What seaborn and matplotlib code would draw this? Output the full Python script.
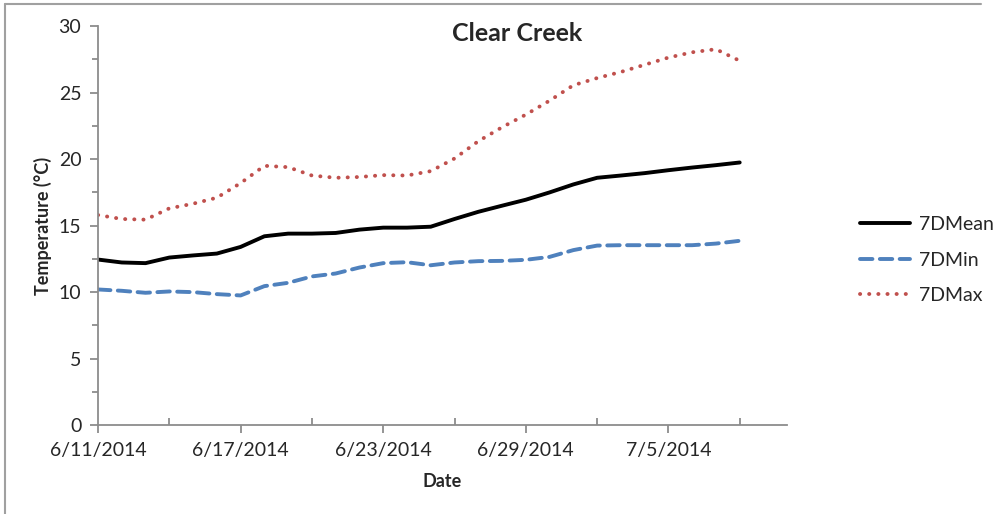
import numpy as np
import pandas as pd
import matplotlib
matplotlib.use("Agg")
import matplotlib.pyplot as plt
import matplotlib.dates as mdates
from matplotlib.ticker import MultipleLocator, FuncFormatter, FixedLocator
import seaborn as sns

sns.set_style("white")
plt.rcParams['font.family'] = ['Lato', 'DejaVu Sans']

# daily values, 6/11/2014 .. 7/8/2014
dates = pd.date_range("2014-06-11", "2014-07-08", freq="D")
mean_7d = [12.45, 12.23, 12.18, 12.6, 12.76, 12.9, 13.4, 14.2, 14.4, 14.4,
           14.45, 14.7, 14.85, 14.85, 14.92, 15.5, 16.04, 16.5, 16.95, 17.5,
           18.1, 18.6, 18.77, 18.95, 19.17, 19.37, 19.55, 19.75]
min_7d = [10.2, 10.1, 9.95, 10.05, 10.0, 9.85, 9.75, 10.45, 10.7, 11.18,
          11.4, 11.85, 12.18, 12.25, 12.02, 12.23, 12.33, 12.35, 12.43, 12.65,
          13.16, 13.5, 13.53, 13.53, 13.53, 13.53, 13.65, 13.86]
max_7d = [15.8, 15.5, 15.45, 16.3, 16.65, 17.1, 18.2, 19.5, 19.4, 18.77,
          18.6, 18.66, 18.8, 18.77, 19.1, 20.05, 21.35, 22.4, 23.35, 24.4,
          25.56, 26.1, 26.56, 27.1, 27.64, 28.04, 28.27, 27.4]

series_names = ["7DMean", "7DMin", "7DMax"]
colors = ["#000000", "#4F81BD", "#C0504D"]
dashes = [None, (3.2, 1.9), (0.05, 2.3)]

df = pd.DataFrame({"Date": dates, "7DMean": mean_7d, "7DMin": min_7d, "7DMax": max_7d})
long = df.melt(id_vars="Date", var_name="Series", value_name="Temp")

fig = plt.figure(figsize=(9.96, 5.14), dpi=100)
ax = fig.add_axes([0.0984, 0.173, 0.692, 0.776])

for name, col, dash in zip(series_names, colors, dashes):
    sub = long[long["Series"] == name]
    sns.lineplot(data=sub, x="Date", y="Temp", ax=ax, color=col, lw=2.8,
                 label=name, legend=False)
    line = ax.lines[-1]
    if dash is not None:
        line.set_dashes(dash)
        line.set_dash_capstyle("round")

start = mdates.date2num(pd.Timestamp("2014-06-11"))
ax.set_ylim(0, 30)
ax.set_xlim(start, start + 29)
ax.yaxis.set_major_locator(MultipleLocator(5))
ax.yaxis.set_minor_locator(MultipleLocator(2.5))
ax.xaxis.set_major_locator(FixedLocator(np.arange(start, start + 29, 6)))
ax.xaxis.set_minor_locator(FixedLocator(np.arange(start, start + 29, 3)))


def fmt_date(x, pos):
    d = mdates.num2date(x)
    return f"{d.month}/{d.day}/{d.year}"


ax.xaxis.set_major_formatter(FuncFormatter(fmt_date))

axis_col = "#8C8C8C"
for side in ["top", "right"]:
    ax.spines[side].set_visible(False)
for side in ["left", "bottom"]:
    ax.spines[side].set_color(axis_col)
    ax.spines[side].set_linewidth(1.3)

ax.tick_params(axis="y", which="major", direction="out", length=6, width=1.3,
               color=axis_col, labelsize=14, pad=6, left=True)
ax.tick_params(axis="y", which="minor", direction="out", length=4, width=1.3,
               color=axis_col, left=True)
ax.tick_params(axis="x", which="major", direction="out", length=6, width=1.3,
               color=axis_col, labelsize=14, pad=6, bottom=True)
ax.tick_params(axis="x", which="minor", direction="in", length=5, width=1.3,
               color=axis_col, bottom=True)

ax.set_xlabel("Date", fontsize=13, fontweight="bold", labelpad=10)
ax.set_ylabel("Temperature (°C)", fontsize=13, fontweight="bold", labelpad=5)
ax.grid(False)

fig.text(0.519, 0.935, "Clear Creek", fontsize=18, fontweight="bold",
         ha="center", va="center")

ax.legend(loc="center left", bbox_to_anchor=(0.863, 0.494),
          bbox_transform=fig.transFigure, frameon=False, fontsize=14,
          handlelength=2.6, labelspacing=0.95, handletextpad=0.45,
          borderaxespad=0, borderpad=0)

# chart border (left and top edges visible)
fig.add_artist(plt.Line2D([0.005, 0.005], [0.0, 0.992], color="#A0A0A0",
                          lw=1.5, transform=fig.transFigure))
fig.add_artist(plt.Line2D([0.005, 0.985], [0.992, 0.992], color="#A0A0A0",
                          lw=1.5, transform=fig.transFigure))

fig.savefig("out.png", dpi=100)
